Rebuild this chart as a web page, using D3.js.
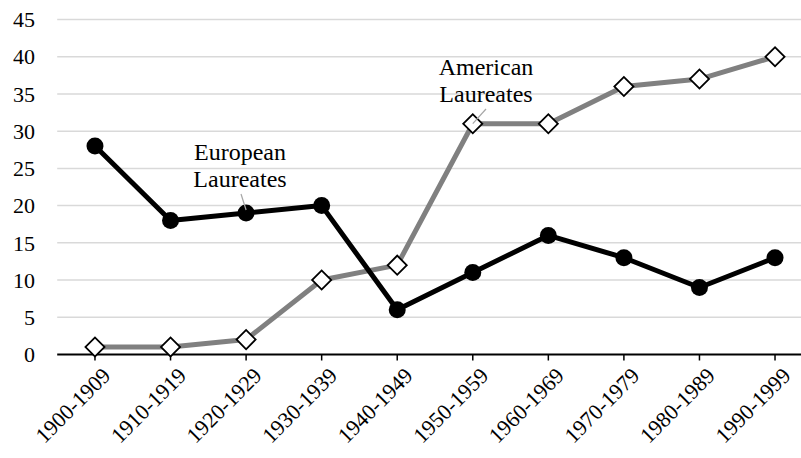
<!DOCTYPE html>
<html><head><meta charset="utf-8">
<script src="https://cdn.jsdelivr.net/npm/d3@7"></script>
</head><body style="margin:0">
<svg id="c" width="801" height="458"></svg>
<script>
const categories = ["1900-1909","1910-1919","1920-1929","1930-1939","1940-1949","1950-1959","1960-1969","1970-1979","1980-1989","1990-1999"];
const european = [28,18,19,20,6,11,16,13,9,13];
const american = [1,1,2,10,12,31,31,36,37,40];
const yTicks = [0,5,10,15,20,25,30,35,40,45];
const FF = "'Liberation Serif', 'Times New Roman', serif";

const svg = d3.select("#c");
const x = d3.scaleBand().domain(categories).range([57.2, 812.8]);
const cx = d => x(d) + x.bandwidth()/2;
const y = d3.scaleLinear().domain([0,45]).range([354.5, 19.5]);

svg.append("g").selectAll("line").data(yTicks.filter(t=>t>0)).join("line")
  .attr("x1",57.2).attr("x2",801).attr("y1",d=>y(d)).attr("y2",d=>y(d))
  .attr("stroke","#d9d9d9").attr("stroke-width",1.5);

svg.append("g").selectAll("text").data(yTicks).join("text")
  .attr("x",35).attr("y",d=>y(d)).attr("dy","0.35em").attr("text-anchor","end")
  .style("font-family",FF,"important").style("font-size","22px","important")
  .attr("fill","#000").text(d=>d);

const xa = svg.append("g").attr("transform","translate(0,354.5)")
  .call(d3.axisBottom(x).tickSize(6).tickSizeOuter(0).tickFormat(""));
xa.select(".domain").attr("stroke","#000").attr("stroke-width",2).attr("d","M57.2,0H801");
xa.selectAll(".tick line").attr("stroke","#000").attr("stroke-width",1.5);

svg.append("g").selectAll("text").data(categories).join("text")
  .attr("transform",d=>`translate(${cx(d)+6},${366}) rotate(-45)`)
  .attr("text-anchor","end").attr("dy","0.7em")
  .style("font-family",FF,"important").style("font-size","22px","important")
  .attr("fill","#000").text(d=>d);

const line = d3.line().x((d,i)=>cx(categories[i])).y(d=>y(d));
svg.append("path").datum(american).attr("d",line).attr("fill","none")
  .attr("stroke","#808080").attr("stroke-width",5).attr("stroke-linejoin","round");
svg.append("path").datum(european).attr("d",line).attr("fill","none")
  .attr("stroke","#000").attr("stroke-width",5).attr("stroke-linejoin","round");

svg.append("g").selectAll("circle").data(european).join("circle")
  .attr("cx",(d,i)=>cx(categories[i])).attr("cy",d=>y(d)).attr("r",8.5).attr("fill","#000");

const dsym = d3.symbol().type(d3.symbolSquare).size(13.5*13.5);
svg.append("g").selectAll("path").data(american).join("path")
  .attr("transform",(d,i)=>`translate(${cx(categories[i])},${y(d)}) rotate(45)`)
  .attr("d",dsym).attr("fill","#fff").attr("stroke","#000").attr("stroke-width",1.8);

svg.append("line").attr("x1",241).attr("y1",194).attr("x2",cx(categories[2])).attr("y2",y(european[2])-3)
  .attr("stroke","#a6a6a6").attr("stroke-width",1.2);
svg.append("line").attr("x1",486).attr("y1",109).attr("x2",cx(categories[5])).attr("y2",y(american[5]))
  .attr("stroke","#a6a6a6").attr("stroke-width",1.2);

const lab = (xx, yy, lines) => {
  const t = svg.append("text").attr("x",xx).attr("y",yy).attr("text-anchor","middle")
    .style("font-family",FF,"important").style("font-size","24px","important").attr("fill","#000");
  lines.forEach((l,i)=>t.append("tspan").attr("x",xx).attr("dy",i?"1.13em":0)
    .style("font-family",FF,"important").text(l));
};
lab(240, 160, ["European","Laureates"]);
lab(486, 75, ["American","Laureates"]);
</script></body></html>
